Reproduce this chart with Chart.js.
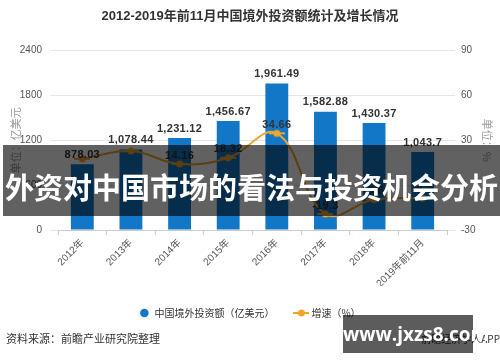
<!DOCTYPE html>
<html>
<head>
<meta charset="utf-8">
<script src="https://cdn.jsdelivr.net/npm/chart.js@4.4.0/dist/chart.umd.min.js"></script>
<style>
  html, body { margin: 0; padding: 0; background: #fff; }
  #wrap { position: relative; width: 500px; height: 362px; overflow: hidden; }
  #wrap canvas { position: absolute; left: 0; top: 0; }
  .fuente { position: absolute; left: 6px; top: 330px; font: 11px 'Noto Sans CJK SC', sans-serif; color: #333; }
  .app { position: absolute; right: 0; top: 331px; font: 10px 'Noto Sans CJK SC', sans-serif; color: #333; }
  .banner { position: absolute; left: 3px; top: 145px; width: 497px; height: 71px; background: rgba(0,0,0,0.62);
            color: #fff; font: bold 29px 'Noto Sans CJK SC', sans-serif; text-align: center; line-height: 71px;
            white-space: nowrap; letter-spacing: 0; padding-top: 6px; box-sizing: border-box; }
  .sitio { position: absolute; left: 343px; top: 315px; width: 130px; height: 38px; background: rgba(0,0,0,0.64);
           color: #fff; font: bold 19px 'Open Sans', sans-serif; text-align: center; line-height: 38px; }
</style>
</head>
<body>
<div id="wrap">
  <canvas id="grafico" width="500" height="362"></canvas>
  <div class="fuente">资料来源：前瞻产业研究院整理</div>
  <div class="app">前瞻经济学人APP</div>
  <div class="banner">外资对中国市场的看法与投资机会分析</div>
  <div class="sitio">www.jxzs8.com</div>
</div>
<script>
// datos del gráfico
const categorias = ["2012年", "2013年", "2014年", "2015年", "2016年", "2017年", "2018年", "2019年前11月"];
const inversion = [878.03, 1078.44, 1231.12, 1456.67, 1961.49, 1582.88, 1430.37, 1043.7];
const crecimiento = [17.6, 22.8, 14.16, 18.32, 34.66, -19.3, -9.6, -8.7];
const ticksIzq = [0, 600, 1200, 1800, 2400];
const ticksDer = [-30, 0, 30, 60, 90];

const fuenteNum = "'Liberation Sans', 'Noto Sans CJK SC', sans-serif";
const azul = '#1277C7';
const naranja = '#F0A62A';

// icono de leyenda para la línea: raya con punto
function iconoLinea() {
    const c = document.createElement('canvas');
    c.width = 16; c.height = 10;
    const g = c.getContext('2d');
    g.strokeStyle = naranja; g.lineWidth = 2;
    g.beginPath(); g.moveTo(0, 5); g.lineTo(16, 5); g.stroke();
    g.fillStyle = naranja;
    g.beginPath(); g.arc(8, 5, 3.5, 0, Math.PI * 2); g.fill();
    return c;
}

// etiquetas de valores sobre barras y puntos (se omiten las que chocan con la de la barra)
const etiquetas = {
    id: 'etiquetas',
    afterDatasetsDraw(chart) {
        const ctx = chart.ctx;
        ctx.save();
        ctx.textAlign = 'center';
        ctx.textBaseline = 'bottom';
        ctx.fillStyle = '#333';
        ctx.font = "bold 11px " + fuenteNum;
        ctx.letterSpacing = '0.3px';
        const barras = chart.getDatasetMeta(0).data;
        barras.forEach((bar, i) => {
            ctx.fillText(inversion[i].toLocaleString('en-US'), bar.x, bar.y - 4);
        });
        chart.getDatasetMeta(1).data.forEach((p, i) => {
            if (Math.abs((p.y - 3) - (barras[i].y - 4)) < 13) return;
            ctx.fillText(String(crecimiento[i]), p.x, p.y - 3);
        });
        ctx.restore();
    }
};

new Chart(document.getElementById('grafico'), {
    type: 'bar',
    data: {
        labels: categorias,
        datasets: [{
            label: '中国境外投资额（亿美元）',
            data: inversion,
            backgroundColor: azul,
            yAxisID: 'y',
            order: 1,
            categoryPercentage: 1,
            barPercentage: 0.47,
            pointStyle: 'circle'
        }, {
            type: 'line',
            label: '增速（%）',
            data: crecimiento,
            borderColor: naranja,
            backgroundColor: naranja,
            borderWidth: 2,
            pointRadius: 3.5,
            pointBackgroundColor: naranja,
            pointBorderWidth: 0,
            tension: 0.4,
            yAxisID: 'y1',
            order: 0,
            pointStyle: iconoLinea()
        }]
    },
    options: {
        responsive: false,
        animation: false,
        layout: { padding: { left: 0, right: 0, top: 0, bottom: 34 } },
        elements: { point: { pointStyle: 'circle' } },
        plugins: {
            title: {
                display: true,
                text: '2012-2019年前11月中国境外投资额统计及增长情况',
                color: '#333',
                font: { size: 13, weight: 'bold', family: fuenteNum },
                padding: { top: 9, bottom: 26 }
            },
            legend: {
                position: 'bottom',
                labels: {
                    usePointStyle: true,
                    boxHeight: 6,
                    padding: 22,
                    color: '#333',
                    font: { size: 10, family: "'Noto Sans CJK SC', sans-serif" },
                    sort: (a, b) => a.datasetIndex - b.datasetIndex
                }
            },
            tooltip: { enabled: false }
        },
        scales: {
            x: {
                offset: true,
                grid: { drawOnChartArea: false, drawTicks: true, tickLength: 5, color: '#ccc' },
                border: { color: '#ccc' },
                ticks: { maxRotation: 45, minRotation: 45, color: '#555', padding: 2,
                         font: { size: 10, family: fuenteNum } },
                afterFit(s) { s.height = 56; }
            },
            y: {
                position: 'left',
                min: ticksIzq[0], max: ticksIzq[ticksIzq.length - 1],
                afterBuildTicks(s) { s.ticks = ticksIzq.map(v => ({ value: v })); },
                grid: { color: '#e6e6e6', tickLength: 8 },
                border: { display: false },
                ticks: { color: '#555', padding: 8, font: { size: 10, family: fuenteNum },
                         callback: v => String(v) },
                title: { display: true, text: '单位：亿美元', color: '#999', padding: { top: 9, bottom: 0 },
                         font: { size: 11, family: "'Noto Sans CJK SC', sans-serif" } },
                afterFit(s) { s.width = 58; }
            },
            y1: {
                position: 'right',
                min: ticksDer[0], max: ticksDer[ticksDer.length - 1],
                afterBuildTicks(s) { s.ticks = ticksDer.map(v => ({ value: v })); },
                grid: { drawOnChartArea: false, color: '#e6e6e6', tickLength: 8 },
                border: { display: false },
                ticks: { color: '#555', padding: 6, font: { size: 10, family: fuenteNum },
                         callback: v => String(v) },
                title: { display: true, text: '单位：%', color: '#999', padding: { top: 6, bottom: 0 },
                         font: { size: 11, family: "'Noto Sans CJK SC', sans-serif" } },
                afterFit(s) { s.width = 53; }
            }
        }
    },
    plugins: [etiquetas]
});
</script>
</body>
</html>
